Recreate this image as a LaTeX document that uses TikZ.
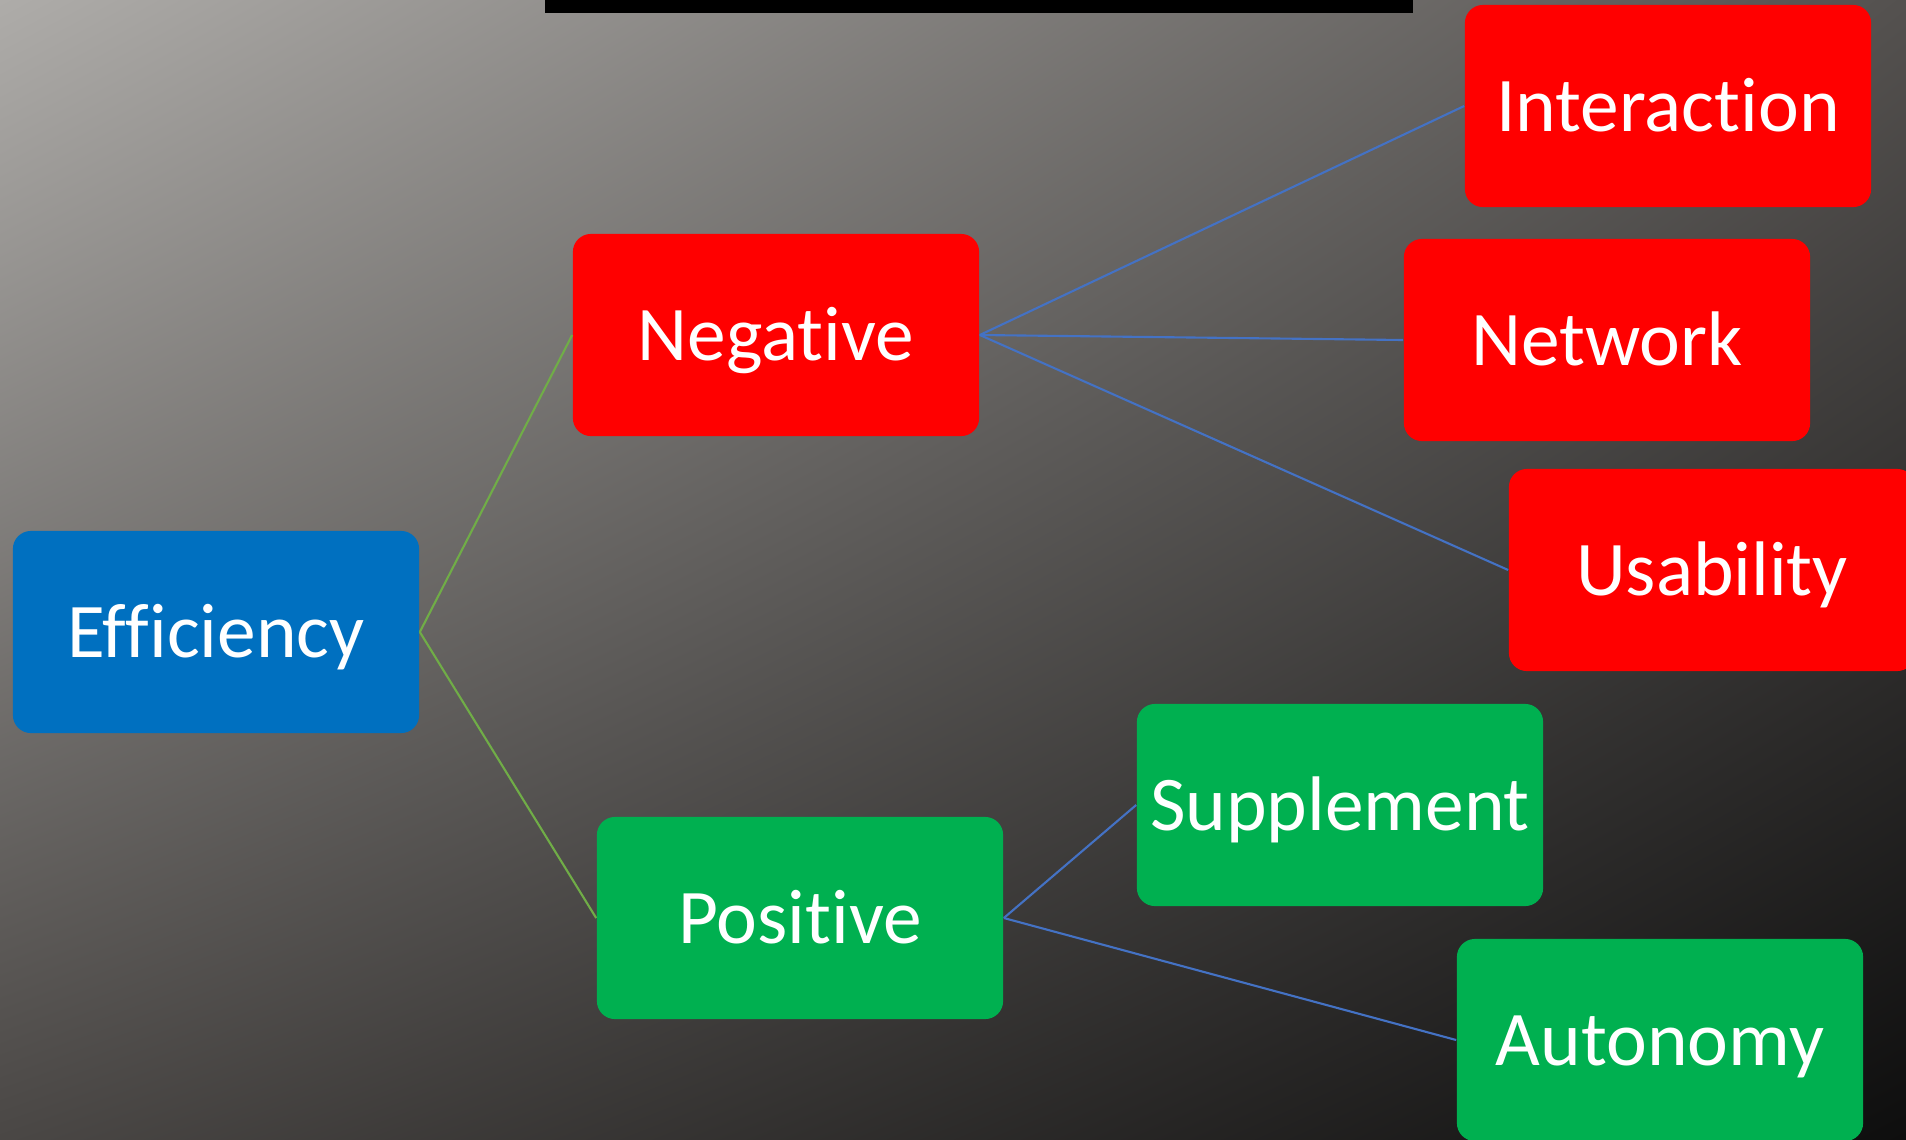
\documentclass[tikz,border=0pt]{standalone}
\usepackage{fontspec}
\setmainfont{Carlito}[Ligatures = {NoCommon}]
\usetikzlibrary{shadings}
\definecolor{effblue}{RGB}{0,112,192}
\definecolor{negred}{RGB}{255,0,0}
\definecolor{posgreen}{RGB}{0,176,80}
\definecolor{linkgreen}{RGB}{112,173,71}
\definecolor{linkblue}{RGB}{68,114,196}
\definecolor{bgtl}{RGB}{174,172,169}
\definecolor{bgtr}{RGB}{84,81,79}
\definecolor{bgbl}{RGB}{74,71,69}
\definecolor{bgbr}{RGB}{14,14,14}
\tikzset{
  box/.style = {rounded corners = 0.18cm, minimum width = 4.06cm, minimum height = 2.02cm, inner sep = 0pt, text = white, font = \fontsize{22}{26}\selectfont, text height = 0.5cm, text depth = 0cm},
  link/.style = {line width = 0.6pt}
}
\begin{document}
\begin{tikzpicture}[x = 0.01cm, y = -0.01cm]
\useasboundingbox (0,0) rectangle (1906,1139);
\clip (0,0) rectangle (1906,1139);
\shade[upper left = bgtl, upper right = bgtr, lower left = bgbl, lower right = bgbr] (0,0) rectangle (1906,1139);
\fill[black] (545,0) rectangle (1413,13);
\node[box, fill = effblue] (eff) at (216,632) {Efficiency};
\node[box, fill = negred] (neg) at (776,335) {Negative};
\node[box, fill = posgreen] (pos) at (800,918) {Positive};
\node[box, fill = negred] (inter) at (1668,106) {Interaction};
\node[box, fill = negred] (net) at (1607,340) {Network};
\node[box, fill = negred] (usa) at (1712,570) {Usability};
\node[box, fill = posgreen] (supp) at (1340,805) {Supplement};
\node[box, fill = posgreen] (auto) at (1660,1040) {Autonomy};
\foreach \t in {neg,pos} \draw [link, linkgreen] (eff.east) -- (\t.west);
\foreach \t in {inter,net,usa} \draw [link, linkblue] (neg.east) -- (\t.west);
\foreach \t in {supp,auto} \draw [link, linkblue] (pos.east) -- (\t.west);
\end{tikzpicture}
\end{document}
